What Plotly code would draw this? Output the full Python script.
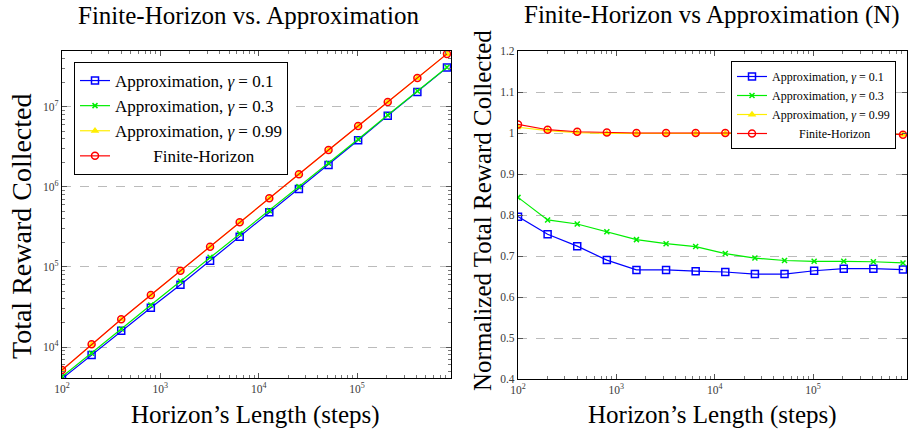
import plotly.graph_objects as go
import numpy as np

steps = [100, 200, 400, 800, 1600, 3200, 6400, 12800, 25600, 51200, 102400, 204800, 409600, 819200]

# Left panel: total reward collected
left_g01 = [4020, 7940, 16000, 31000, 60000, 120000, 239000, 483000, 944000, 1.88e6, 3.84e6, 7.78e6, 1.54e7, 3.1e7]
left_g03 = [4250, 8340, 16800, 33500, 66200, 132000, 261000, 506000, 1.01e6, 1.98e6, 3.94e6, 7.94e6, 1.58e7, 3.13e7]
left_g099 = [5120, 10750, 22150, 44650, 90000, 179000, 362000, 722000, 1.44e6, 2.9e6, 5.79e6, 1.155e7, 2.3e7, 4.6e7]
left_fh = [5160, 10800, 22200, 44700, 90000, 179000, 362000, 722000, 1.44e6, 2.9e6, 5.79e6, 1.155e7, 2.3e7, 4.6e7]

# Right panel: normalized total reward collected
norm_g01 = [0.796, 0.753, 0.724, 0.690, 0.666, 0.666, 0.663, 0.661, 0.656, 0.656, 0.664, 0.669, 0.669, 0.667]
norm_g03 = [0.843, 0.788, 0.778, 0.759, 0.740, 0.730, 0.723, 0.706, 0.695, 0.689, 0.687, 0.687, 0.686, 0.683]
norm_g099 = [1.014, 1.006, 1.001, 0.999, 0.999, 0.999, 0.999, 0.999, 0.999, 0.999, 0.999, 0.999, 0.999, 0.996]
norm_fh = [1.021, 1.008, 1.003, 1.001, 1.0, 1.0, 1.0, 1.0, 1.0, 1.0, 1.0, 1.0, 1.0, 0.996]

NB = "\u00a0"
names_left = ["Approximation, <i>γ</i> = 0.1", "Approximation, <i>γ</i> = 0.3",
              "Approximation, <i>γ</i> = 0.99", NB * 9 + "Finite-Horizon"]
names_right = ["Approximation, <i>γ</i> = 0.1", "Approximation, <i>γ</i> = 0.3",
               "Approximation, <i>γ</i> = 0.99", NB * 9 + "Finite-Horizon"]
colors = ["#0000ff", "#00ee00", "#ffee00", "#ff0000"]
symbols = ["square-open", "x-thin-open", "triangle-up", "circle-open"]
msizes = [7, 5, 5, 7]

x_major = [100, 1000, 10000, 100000]
x_major_txt = ["10<sup>2</sup>", "10<sup>3</sup>", "10<sup>4</sup>", "10<sup>5</sup>"]
y_major_left = [1e4, 1e5, 1e6, 1e7]
y_major_left_txt = ["10<sup>4</sup>", "10<sup>5</sup>", "10<sup>6</sup>", "10<sup>7</sup>"]
y_major_right = [0.4, 0.5, 0.6, 0.7, 0.8, 0.9, 1.0, 1.1, 1.2]
y_major_right_txt = ["0.4", "0.5", "0.6", "0.7", "0.8", "0.9", "1", "1.1", "1.2"]

FONT = "Liberation Serif"
W, H = 909, 434

fig = go.Figure()

left_series = [left_g01, left_g03, left_g099, left_fh]
right_series = [norm_g01, norm_g03, norm_g099, norm_fh]

for i in range(4):
    fig.add_trace(go.Scatter(
        x=steps, y=left_series[i], name=names_left[i], mode="lines+markers",
        line=dict(color=colors[i], width=1.2),
        marker=dict(symbol=symbols[i], size=msizes[i], color=colors[i],
                    line=dict(color=colors[i], width=1.5)),
        xaxis="x", yaxis="y", legend="legend"))
for i in range(4):
    fig.add_trace(go.Scatter(
        x=steps, y=right_series[i], name=names_right[i], mode="lines+markers",
        line=dict(color=colors[i], width=1.2),
        marker=dict(symbol=symbols[i], size=msizes[i], color=colors[i],
                    line=dict(color=colors[i], width=1.5)),
        xaxis="x2", yaxis="y2", legend="legend2"))

minor_x = [m * 10 ** e for e in range(2, 6) for m in range(2, 10)]
minor_y = [m * 10 ** e for e in range(3, 8) for m in range(2, 10)]

tickfont = dict(family=FONT, size=11.5, color="#3a3a3a")
axis_common = dict(showline=True, linecolor="black", linewidth=1.2, mirror="allticks",
                   ticks="inside", ticklen=5, tickcolor="#555", tickfont=tickfont,
                   zeroline=False, automargin=False)
minor_common = dict(ticks="inside", ticklen=3, tickcolor="#777", showgrid=False, tickmode="array")

xl = np.log10(9.0e5)
fig.update_layout(
    width=W, height=H,
    margin=dict(l=0, r=0, t=0, b=0, autoexpand=False),
    paper_bgcolor="white", plot_bgcolor="white",
    font=dict(family=FONT, color="black"),
    xaxis=dict(domain=[62 / W, 451 / W], type="log", range=[2, xl],
               tickmode="array", tickvals=x_major, ticktext=x_major_txt,
               showgrid=False, anchor="y",
               minor=dict(tickvals=minor_x, **minor_common), **axis_common),
    yaxis=dict(domain=[(H - 378) / H, (H - 51) / H], type="log",
               range=[np.log10(4100), np.log10(5.0e7)],
               tickmode="array", tickvals=y_major_left, ticktext=y_major_left_txt,
               showgrid=True, gridcolor="#bbbbbb", griddash="dash", gridwidth=1, anchor="x",
               minor=dict(tickvals=minor_y, **minor_common), **axis_common),
    xaxis2=dict(domain=[518 / W, 907 / W], type="log", range=[2, xl],
                tickmode="array", tickvals=x_major, ticktext=x_major_txt,
                showgrid=False, anchor="y2",
                minor=dict(tickvals=minor_x, **minor_common), **axis_common),
    yaxis2=dict(domain=[(H - 379) / H, (H - 51) / H], range=[0.4, 1.2],
                tickmode="array", tickvals=y_major_right, ticktext=y_major_right_txt,
                showgrid=True, gridcolor="#bbbbbb", griddash="dash", gridwidth=1, anchor="x2",
                **axis_common),
    legend=dict(x=74 / W, y=(H - 62) / H, xanchor="left", yanchor="top",
                bgcolor="white", bordercolor="black", borderwidth=1,
                font=dict(family=FONT, size=17), tracegroupgap=0, itemwidth=30),
    legend2=dict(x=896 / W, y=(H - 61) / H, xanchor="right", yanchor="top",
                 bgcolor="white", bordercolor="black", borderwidth=1,
                 font=dict(family=FONT, size=12), tracegroupgap=0, itemwidth=30),
    annotations=[
        dict(text="Finite-Horizon vs. Approximation", x=249 / W, y=1 - 15 / H,
             xref="paper", yref="paper", showarrow=False, xanchor="center", yanchor="middle",
             font=dict(family=FONT, size=25)),
        dict(text="Finite-Horizon vs Approximation (N)", x=712 / W, y=1 - 15 / H,
             xref="paper", yref="paper", showarrow=False, xanchor="center", yanchor="middle",
             font=dict(family=FONT, size=25)),
        dict(text="Horizon’s Length (steps)", x=255 / W, y=1 - 415 / H,
             xref="paper", yref="paper", showarrow=False, xanchor="center", yanchor="middle",
             font=dict(family=FONT, size=25)),
        dict(text="Horizon’s Length (steps)", x=712 / W, y=1 - 415 / H,
             xref="paper", yref="paper", showarrow=False, xanchor="center", yanchor="middle",
             font=dict(family=FONT, size=25)),
        dict(text="Total Reward Collected", x=22 / W, y=1 - 226 / H, textangle=-90,
             xref="paper", yref="paper", showarrow=False, xanchor="center", yanchor="middle",
             font=dict(family=FONT, size=28)),
        dict(text="Normalized Total Reward Collected", x=483 / W, y=1 - 211 / H, textangle=-90,
             xref="paper", yref="paper", showarrow=False, xanchor="center", yanchor="middle",
             font=dict(family=FONT, size=25)),
    ],
)

fig.write_html("out.html", config={"displayModeBar": False},
               post_script="document.body.style.margin='0';document.body.style.overflow='hidden';")
